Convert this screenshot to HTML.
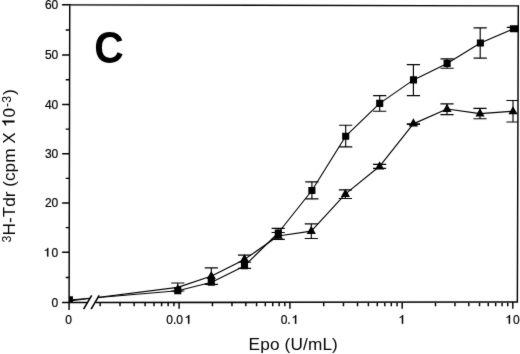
<!DOCTYPE html>
<html><head><meta charset="utf-8"><style>
html,body{margin:0;padding:0;background:#fff;}
body{width:520px;height:354px;overflow:hidden;font-family:"Liberation Sans",sans-serif;}
svg{display:block;will-change:transform;}
</style></head><body>
<svg width="520" height="354" viewBox="0 0 520 354">
<defs><filter id="bl" x="0" y="0" width="520" height="354" filterUnits="userSpaceOnUse" color-interpolation-filters="sRGB"><feConvolveMatrix order="3" kernelMatrix="0.015 0.06 0.015 0.06 0.70 0.06 0.015 0.06 0.015" edgeMode="duplicate"/></filter>
<clipPath id="pc"><path d="M69.75 4.90L518.30 5.90L517.35 302.00L69.10 302.50Z"/></clipPath></defs>
<g filter="url(#bl)">
<rect width="520" height="354" fill="#fff"/>
<g clip-path="url(#pc)">
<polyline points="69.40,300.00 177.80,290.70 211.60,282.20 244.50,265.90 278.10,233.00 311.90,190.50 345.70,136.20 379.70,103.40 413.50,79.90 447.10,63.40 480.40,43.00 513.40,28.80" fill="none" stroke="#000" stroke-width="1.15" stroke-linejoin="round"/>
<polyline points="69.40,301.00 177.80,287.40 211.60,276.00 244.50,259.40 278.10,236.00 311.30,231.10 345.30,194.10 379.60,166.30 413.30,123.90 447.00,109.00 480.00,113.60 513.00,111.20" fill="none" stroke="#000" stroke-width="1.15" stroke-linejoin="round"/>
<path d="M177.75 283.00V291.00M171.15 283.00H184.35M171.15 291.00H184.35M211.30 267.80V284.40M204.70 267.80H217.90M204.70 284.40H217.90M244.50 255.10V262.20M237.90 255.10H251.10M237.90 262.20H251.10M244.50 262.60V268.40M237.90 268.40H251.10M278.20 228.40V236.00M271.60 228.40H284.80M278.20 232.50V239.30M271.60 232.50H284.80M271.60 239.30H284.80M311.90 181.90V198.90M305.30 181.90H318.50M305.30 198.90H318.50M311.30 223.80V238.50M304.70 223.80H317.90M304.70 238.50H317.90M345.70 125.20V146.80M339.10 125.20H352.30M339.10 146.80H352.30M345.40 189.80V198.50M338.80 189.80H352.00M338.80 198.50H352.00M379.70 95.60V111.20M373.10 95.60H386.30M373.10 111.20H386.30M379.60 164.30V168.30M373.00 164.30H386.20M373.00 168.30H386.20M413.40 64.60V95.60M406.80 64.60H420.00M406.80 95.60H420.00M413.40 123.80V124.30M406.80 123.80H420.00M406.80 124.30H420.00M447.10 58.80V68.20M440.50 58.80H453.70M440.50 68.20H453.70M447.00 103.90V114.60M440.40 103.90H453.60M440.40 114.60H453.60M480.20 27.90V58.10M473.60 27.90H486.80M473.60 58.10H486.80M480.00 108.40V118.70M473.40 108.40H486.60M473.40 118.70H486.60M513.40 27.40V28.80M506.80 27.40H520.00M513.00 100.50V122.00M506.40 100.50H519.60M506.40 122.00H519.60" stroke="#000" stroke-width="1.15" fill="none"/>
<path d="M65.85 296.15h7.10v7.10h-7.10ZM174.20 287.05h7.10v7.10h-7.10ZM207.75 278.55h7.10v7.10h-7.10ZM240.95 262.05h7.10v7.10h-7.10ZM274.75 229.45h7.10v7.10h-7.10ZM308.35 186.95h7.10v7.10h-7.10ZM342.15 132.65h7.10v7.10h-7.10ZM376.15 99.85h7.10v7.10h-7.10ZM409.95 76.35h7.10v7.10h-7.10ZM443.55 59.85h7.10v7.10h-7.10ZM476.85 39.45h7.10v7.10h-7.10ZM509.90 25.25h9.60v7.10h-9.60ZM177.80 283.90L182.40 292.00L173.20 292.00ZM211.30 270.90L215.90 279.00L206.70 279.00ZM244.50 254.00L249.10 262.10L239.90 262.10ZM278.20 230.70L282.80 238.80L273.60 238.80ZM311.30 225.80L315.90 233.90L306.70 233.90ZM345.40 188.80L350.00 196.90L340.80 196.90ZM379.60 161.30L384.20 169.40L375.00 169.40ZM413.40 118.30L418.00 126.40L408.80 126.40ZM447.00 103.80L451.60 111.90L442.40 111.90ZM480.00 108.30L484.60 116.40L475.40 116.40ZM513.00 106.20L517.60 114.30L508.40 114.30Z" fill="#000"/>
</g>
<path d="M83.9 309.5L92.0 295.0L99.0 295.0L90.9 309.5Z" fill="#fff"/>
<path d="M69.75 4.10L69.08 309.90M62.0 4.90L519.10 5.90M518.30 5.90L517.35 302.00M62.0 302.50H87.4M95.7 302.47L518.15 302.00M62.1 302.50L69.10 302.50M62.1 252.30L69.21 252.30M62.1 202.90L69.32 202.90M62.1 153.80L69.42 153.80M62.1 104.40L69.53 104.40M62.1 54.90L69.64 54.90M62.1 4.90L69.75 4.90M65.7 277.40L69.15 277.40M65.7 227.60L69.26 227.60M65.7 178.35L69.37 178.35M65.7 129.10L69.48 129.10M65.7 79.65L69.59 79.65M65.7 29.90L69.70 29.90M179.10 302.38V308.80M289.90 302.25V308.80M402.20 302.13V308.80M512.80 302.01V308.80M100.12 302.47V306.20M120.01 302.44V306.20M134.13 302.43V306.20M145.08 302.42V306.20M154.03 302.41V306.20M161.60 302.40V306.20M168.15 302.39V306.20M173.93 302.38V306.20M212.45 302.34V306.20M231.97 302.32V306.20M245.81 302.30V306.20M256.55 302.29V306.20M265.32 302.28V306.20M272.74 302.27V306.20M279.16 302.27V306.20M284.83 302.26V306.20M323.71 302.22V306.20M343.48 302.19V306.20M357.51 302.18V306.20M368.39 302.17V306.20M377.29 302.16V306.20M384.80 302.15V306.20M391.32 302.14V306.20M397.06 302.13V306.20M435.49 302.09V306.20M454.97 302.07V306.20M468.79 302.05V306.20M479.51 302.04V306.20M488.26 302.03V306.20M495.67 302.02V306.20M502.08 302.02V306.20M507.74 302.01V306.20" stroke="#000" stroke-width="1.45" fill="none"/>
<path d="M83.6 309.2L91.7 295.3M91.1 309.2L99.2 295.3" stroke="#000" stroke-width="1.6" fill="none"/>
<g font-family="Liberation Sans, sans-serif" font-size="12" stroke="#000" stroke-width="0.20">
<text x="58.3" y="306.80" text-anchor="end">0</text>
<text x="58.3" y="207.20" text-anchor="end">20</text>
<text x="58.3" y="158.10" text-anchor="end">30</text>
<text x="58.3" y="108.70" text-anchor="end">40</text>
<text x="58.3" y="59.20" text-anchor="end">50</text>
<text x="58.3" y="9.20" text-anchor="end">60</text>
<text x="51.6" y="256.60">0</text>
<text x="68.7" y="323.7" text-anchor="middle">0</text>
<text x="166.3" y="323.7">0.0</text>
<text x="280.7" y="323.7">0.</text>
<text x="513.1" y="323.7">0</text>
<path d="M48.35 256.60L48.35 247.90L47.55 247.90C47.20 249.10 46.20 249.70 44.90 249.90L44.90 250.90C45.80 250.80 46.60 250.50 47.05 250.00L47.05 256.60ZM189.35 323.70L189.35 315.00L188.55 315.00C188.20 316.20 187.20 316.80 185.90 317.00L185.90 318.00C186.80 317.90 187.60 317.60 188.05 317.10L188.05 323.70ZM296.25 323.70L296.25 315.00L295.45 315.00C295.10 316.20 294.10 316.80 292.80 317.00L292.80 318.00C293.70 317.90 294.50 317.60 294.95 317.10L294.95 323.70ZM403.15 323.70L403.15 315.00L402.35 315.00C402.00 316.20 401.00 316.80 399.70 317.00L399.70 318.00C400.60 317.90 401.40 317.60 401.85 317.10L401.85 323.70ZM510.05 323.70L510.05 315.00L509.25 315.00C508.90 316.20 507.90 316.80 506.60 317.00L506.60 318.00C507.50 317.90 508.30 317.60 508.75 317.10L508.75 323.70Z" fill="#000"/>
</g>
<text x="293.3" y="349.8" font-family="Liberation Sans, sans-serif" font-size="17.2" letter-spacing="0.15" text-anchor="middle">Epo (U/mL)</text>
<text transform="translate(109.05 62.85) scale(0.93 1)" font-family="Liberation Sans, sans-serif" font-size="44" font-weight="bold" text-anchor="middle">C</text>
<g transform="translate(14.6 245) rotate(-90)" font-family="Liberation Sans, sans-serif">
<text x="2.4" y="-3.2" font-size="12.40">3</text>
<text x="9.6" y="0" font-size="17.20" letter-spacing="0.00">H-Tdr (cpm X </text>
<text x="127.4" y="0" font-size="17.20">0</text>
<path d="M124.43 0.00L124.43 -12.47L123.28 -12.47C122.78 -10.75 121.35 -9.89 119.49 -9.60L119.49 -8.17C120.78 -8.31 121.92 -8.74 122.57 -9.46L122.57 0.00Z" fill="#000"/>
<text x="138.0" y="-3.2" font-size="12.40">-3</text>
<text x="150.0" y="0" font-size="17.20">)</text>
</g>
</g>
</svg>
</body></html>
